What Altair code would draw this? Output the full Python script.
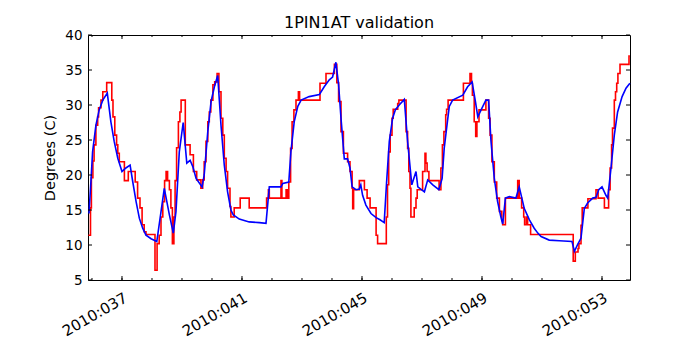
import altair as alt
import pandas as pd

# Measured (red, stepped) series: day-of-year 2010, degrees C
red_day = [35.88, 35.95, 35.98, 36.03, 36.07, 36.13, 36.19, 36.22, 36.30, 36.36, 36.49,
           36.66, 36.70, 36.76, 36.82, 36.86, 36.91, 37.08, 37.21, 37.44, 37.52, 37.60,
           37.67, 37.74, 37.80, 38.10, 38.17, 38.24, 38.30, 38.36, 38.42, 38.47, 38.52,
           38.58, 38.63, 38.68, 38.73, 38.77, 38.82, 38.88, 38.93, 38.97, 39.11, 39.27,
           39.38, 39.49, 39.63, 39.69, 39.74, 39.80, 39.86, 39.91, 39.96, 40.03, 40.09,
           40.17, 40.23, 40.30, 40.36, 40.41, 40.47, 40.52, 40.60, 40.63, 40.74, 40.94,
           41.24, 41.82, 41.88, 41.91, 42.30, 42.33, 42.47, 42.52, 42.56, 42.62, 42.67,
           42.73, 42.80, 42.88, 42.92, 43.60, 43.80, 44.08, 44.16, 44.22, 44.30, 44.38,
           44.52, 44.60, 44.67, 44.69, 44.72, 44.91, 45.08, 45.17, 45.27, 45.47, 45.52,
           45.81, 45.85, 45.89, 45.94, 46.00, 46.04, 46.19, 46.23, 46.47, 46.52, 46.56,
           46.60, 46.63, 46.74, 46.80, 46.84, 47.02, 47.10, 47.13, 47.17, 47.23, 47.57,
           47.63, 47.68, 47.73, 47.79, 47.82, 47.87, 48.38, 48.60, 48.65, 48.68, 48.74,
           48.79, 48.83, 48.90, 49.13, 49.22, 49.27, 49.33, 49.41, 49.49, 49.58, 49.66,
           49.69, 49.78, 50.19, 50.24, 50.32, 50.39, 50.42, 50.48, 50.52, 50.62, 52.04,
           52.11, 52.20, 52.23, 52.30, 52.34, 52.53, 52.80, 52.87, 53.08, 53.22, 53.27,
           53.32, 53.35, 53.41, 53.45, 53.49, 53.53, 53.60, 53.90, 53.93]
red_temp = [11.4, 15.3, 19.6, 22.0, 24.3, 27.1, 28.3, 29.6, 30.7, 31.9, 33.2,
            30.7, 28.3, 25.7, 24.3, 23.1, 21.9, 19.2, 20.5, 19.0, 16.7, 15.3,
            12.9, 11.9, 11.5, 6.4, 10.2, 11.4, 14.0, 16.2, 19.2, 20.5, 19.2,
            17.9, 15.3, 10.2, 14.0, 19.2, 23.9, 27.6, 29.0, 30.7, 24.3, 22.9,
            20.5, 19.3, 18.1, 19.3, 21.9, 24.8, 27.6, 29.0, 30.7, 32.9, 33.3,
            34.5, 31.9, 28.1, 25.7, 22.4, 20.5, 18.1, 15.5, 14.0, 15.3, 16.7,
            15.3, 16.7, 17.9, 16.7, 19.2, 16.7, 17.9, 16.7, 19.0, 23.8, 27.6,
            29.3, 30.7, 31.9, 30.7, 33.1, 34.5, 35.8, 33.2, 30.5, 26.2, 23.1,
            21.9, 20.5, 18.1, 15.2, 17.9, 19.2, 17.9, 16.7, 15.3, 11.4, 10.2,
            14.0, 18.6, 23.3, 25.7, 28.1, 29.4, 30.2, 30.7, 26.2, 23.8, 20.5,
            18.1, 14.0, 15.3, 16.7, 17.9, 20.5, 23.1, 21.7, 20.5, 19.2, 17.9,
            21.0, 24.3, 26.2, 28.6, 29.4, 30.7, 33.1, 34.5, 33.1, 31.4, 27.6,
            25.5, 27.6, 29.3, 30.7, 28.1, 25.7, 21.9, 19.0, 16.7, 14.8, 13.5,
            12.9, 16.7, 19.2, 16.7, 15.3, 14.0, 12.9, 14.0, 12.9, 11.5, 7.7,
            9.0, 9.5, 10.2, 12.8, 15.3, 16.6, 17.9, 16.7, 15.3, 17.9, 21.0,
            24.3, 26.7, 30.7, 31.9, 33.1, 34.5, 35.8, 37.0, 37.0]

# Model (blue) series
blue_day = [35.90, 35.97, 36.02, 36.13, 36.24, 36.36, 36.51, 36.63, 36.74, 36.86, 37.00,
            37.13, 37.27, 37.36, 37.47, 37.58, 37.69, 37.80, 37.97, 38.16, 38.41, 38.58,
            38.71, 38.80, 38.91, 39.04, 39.16, 39.27, 39.36, 39.47, 39.67, 39.74, 39.86,
            39.97, 40.08, 40.19, 40.30, 40.41, 40.52, 40.63, 40.71, 40.91, 41.24, 41.58,
            41.80, 41.91, 42.30, 42.36, 42.56, 42.63, 42.74, 42.86, 42.97, 43.24, 43.58,
            43.74, 43.91, 44.02, 44.13, 44.22, 44.30, 44.41, 44.52, 44.60, 44.67, 44.80,
            44.91, 44.96, 45.02, 45.13, 45.30, 45.47, 45.60, 45.74, 45.82, 45.91, 46.02,
            46.11, 46.24, 46.41, 46.52, 46.66, 46.80, 46.86, 47.08, 47.19, 47.36, 47.56,
            47.67, 47.74, 47.86, 47.91, 48.02, 48.36, 48.52, 48.67, 48.78, 48.86, 48.97,
            49.13, 49.22, 49.30, 49.41, 49.52, 49.63, 49.69, 49.78, 49.91, 50.13, 50.24,
            50.41, 50.58, 50.74, 50.86, 50.97, 51.24, 51.58, 52.00, 52.08, 52.19, 52.30,
            52.41, 52.52, 52.69, 52.80, 52.89, 53.00, 53.13, 53.19, 53.30, 53.41, 53.52,
            53.67, 53.80, 53.93]
blue_temp = [14.5, 19.5, 23.3, 27.1, 29.3, 30.7, 31.7, 27.6, 24.8, 22.4, 20.5,
             21.0, 21.4, 19.0, 16.2, 13.8, 12.4, 11.4, 10.9, 10.5, 18.1, 14.3,
             11.7, 14.8, 23.3, 27.5, 21.7, 22.1, 21.2, 19.5, 18.3, 20.0, 26.2,
             30.5, 32.6, 34.2, 27.1, 21.4, 17.6, 15.0, 14.3, 13.7, 13.3, 13.2,
             13.1, 18.3, 18.3, 18.8, 19.0, 23.3, 27.6, 29.8, 30.7, 31.2, 31.5,
             32.6, 33.6, 34.0, 36.1, 32.9, 28.1, 22.3, 22.3, 21.0, 18.3, 17.9,
             18.0, 18.6, 17.1, 15.7, 14.5, 13.9, 13.6, 13.2, 19.0, 24.8, 28.1,
             29.3, 30.0, 30.8, 24.8, 18.6, 20.5, 18.3, 17.6, 19.3, 18.6, 17.9,
             19.5, 23.8, 28.1, 29.8, 30.7, 31.4, 32.6, 33.3, 30.5, 28.3, 29.3,
             30.7, 30.7, 24.8, 19.5, 16.2, 14.0, 13.0, 16.7, 16.9, 16.7, 18.3,
             15.2, 13.6, 12.4, 11.7, 11.2, 10.7, 10.6, 10.5, 9.1, 10.1, 11.0,
             15.2, 16.0, 16.7, 16.8, 17.9, 18.3, 17.1, 16.7, 21.0, 25.7, 29.0,
             31.2, 32.4, 33.1]

major_days = [37, 41, 45, 49, 53]
minor_days = list(range(36, 54))
y_ticks = [5, 10, 15, 20, 25, 30, 35, 40]

W, H = 542, 245
FONT = "DejaVu Sans"

red_df = pd.DataFrame({"day": red_day, "temp": red_temp})
blue_df = pd.DataFrame({"day": blue_day, "temp": blue_temp})
major_df = pd.DataFrame({"day": major_days})
minor_df = pd.DataFrame({"day": minor_days})
yt_df = pd.DataFrame({"temp": y_ticks})

xscale = alt.Scale(domain=[35.867, 53.933], nice=False, zero=False)
yscale = alt.Scale(domain=[5, 40], nice=False, zero=False)

xaxis = alt.Axis(values=major_days, labelExpr="'2010:0' + format(datum.value, 'd')",
                 ticks=False, domain=False, grid=False, labelAngle=330,
                 labelAlign="right", labelBaseline="top", labelPadding=10,
                 labelFontSize=15, labelFont=FONT, labelColor="black", title=None,
                 labelOverlap=False, labelBound=False, labelFlush=False)
yaxis = alt.Axis(values=y_ticks, ticks=False, domain=False, grid=False,
                 labelPadding=6, labelFontSize=13.5, labelFont=FONT, labelColor="black",
                 labelOverlap=False, labelBound=False, labelFlush=False,
                 title="Degrees (C)", titleFont=FONT, titleFontSize=14.5,
                 titleFontWeight="normal", titleColor="black", titlePadding=7)

X = alt.X("day:Q", scale=xscale, axis=xaxis)
Y = alt.Y("temp:Q", scale=yscale, axis=yaxis)

red_line = alt.Chart(red_df).mark_line(color="#ff0000", strokeWidth=1.6,
                                       interpolate="step-after").encode(x=X, y=Y)
blue_line = alt.Chart(blue_df).mark_line(color="#0000ff", strokeWidth=1.6).encode(x=X, y=Y)

def xticks(df, length):
    bottom = alt.Chart(df).mark_rule(color="black", strokeWidth=1).encode(
        x=X, y=alt.value(H), y2=alt.value(H - length))
    top = alt.Chart(df).mark_rule(color="black", strokeWidth=1).encode(
        x=X, y=alt.value(0), y2=alt.value(length))
    return [bottom, top]

yt_left = alt.Chart(yt_df).mark_rule(color="black", strokeWidth=1).encode(
    y=Y, x=alt.value(0), x2=alt.value(4))
yt_right = alt.Chart(yt_df).mark_rule(color="black", strokeWidth=1).encode(
    y=Y, x=alt.value(W), x2=alt.value(W - 4))

chart = alt.layer(
    red_line, blue_line, *xticks(minor_df, 2), *xticks(major_df, 4), yt_left, yt_right
).properties(
    width=W, height=H,
    title=alt.TitleParams("1PIN1AT validation", font=FONT, fontSize=16,
                          fontWeight="normal", color="black", anchor="middle",
                          frame="group", baseline="alphabetic", offset=7, dy=23),
    autosize=alt.AutoSizeParams(type="none"),
    padding={"left": 80, "top": 27, "right": 54, "bottom": 60},
    background="white",
).configure_view(stroke="black", strokeWidth=1).configure_axis(labelOverlap=False)

chart.save("out.html", embed_options={"renderer": "svg", "actions": False})
